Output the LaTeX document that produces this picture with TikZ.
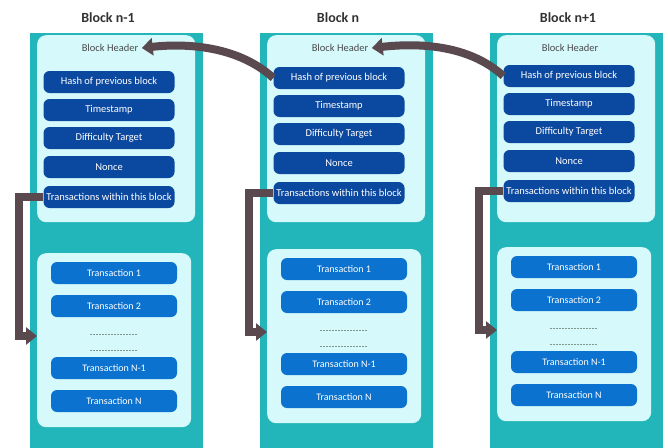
\documentclass[tikz,border=0pt]{standalone}
\usepackage{fontspec}
\setmainfont{Carlito}
\usetikzlibrary{arrows.meta}

\definecolor{colteal}{HTML}{22B5B9}
\definecolor{panelbg}{HTML}{D6FAFC}
\definecolor{hdrblue}{HTML}{0B489F}
\definecolor{txblue}{HTML}{0C72CF}
\definecolor{linkgray}{HTML}{5A4A50}
\definecolor{titlegray}{HTML}{333333}
\definecolor{hdrgray}{HTML}{4A4A4A}
\definecolor{gapgray}{HTML}{7F978A}

\tikzset{
  column/.style={fill=colteal, draw=none, minimum width=173pt, minimum height=420pt, inner sep=0pt},
  panel/.style={fill=panelbg, draw=none, rounded corners=9pt, inner sep=0pt},
  blocktitle/.style={text=titlegray, font=\fontsize{14}{16}\selectfont\bfseries},
  hdrlabel/.style={text=hdrgray, font=\fontsize{10.5}{12}\selectfont},
  hitem/.style={fill=hdrblue, text=white, rounded corners=6pt, minimum width=131pt,
    minimum height=22pt, inner sep=0pt, font=\fontsize{10.5}{12}\selectfont},
  titem/.style={fill=txblue, text=white, rounded corners=6pt, minimum width=126pt,
    minimum height=22pt, inner sep=0pt, font=\fontsize{10}{12}\selectfont},
  gapline/.style={draw=gapgray, line width=0.6pt, dash pattern=on 2pt off 1pt},
  link/.style={draw=linkgray, line width=8pt, line join=miter,
    -{Triangle[length=11pt,width=17pt]}},
}

% One block of the chain: #1 name prefix, #2 left edge of the column,
% #3 vertical shift of its contents, #4 title
\newcommand\chainblock[4]{%
  \node[column, anchor=north west] (#1-col) at (#2,33) {};
  \node[blocktitle] (#1-title) at (#2+78,18) {#4};
  \node[panel, anchor=north west, minimum width=158pt, minimum height=187pt] (#1-head) at (#2+7,35) {};
  \node[hdrlabel] (#1-hdr) at (#2+80,48) {Block Header};
  \node[hitem] (#1-hash)  at (#2+79,82+#3)  {Hash of previous block};
  \node[hitem] (#1-time)  at (#2+79,110+#3) {Timestamp};
  \node[hitem] (#1-diff)  at (#2+79,138+#3) {Difficulty Target};
  \node[hitem] (#1-nonce) at (#2+79,167+#3) {Nonce};
  \node[hitem] (#1-txs)   at (#2+79,197+#3) {Transactions within this block};
  \node[panel, anchor=north west, minimum width=154pt, minimum height=174pt] (#1-body) at (#2+7,253+#3) {};
  \node[titem] (#1-t1)  at (#2+84,273+#3) {Transaction 1};
  \node[titem] (#1-t2)  at (#2+84,306+#3) {Transaction 2};
  \draw[gapline] (#2+60,334+#3) -- (#2+107,334+#3);
  \draw[gapline] (#2+60,350+#3) -- (#2+107,350+#3);
  \node[titem] (#1-tn1) at (#2+84,368+#3) {Transaction N-1};
  \node[titem] (#1-tn)  at (#2+84,401+#3) {Transaction N};
  \coordinate (#1-turn) at (#2-11,336+#3);
  \draw[link] (#1-txs.west) -| (#1-turn) -- (#1-body.west |- #1-turn);
}

\begin{document}
\begin{tikzpicture}[x=1pt,y=-1pt]
  \useasboundingbox[fill=white] (0,0) rectangle (668,447);
  \chainblock{a}{30}{0}{Block n-1}
  \chainblock{b}{260}{-4}{Block n}
  \chainblock{c}{490}{-6}{Block n+1}
  % each block points back to the header of the one before it
  \draw[link] (b-hash.west) .. controls +(-35,-32) and +(45,-5) .. (a-hdr.east);
  \draw[link] (c-hash.west) .. controls +(-35,-32) and +(45,-5) .. (b-hdr.east);
\end{tikzpicture}
\end{document}
